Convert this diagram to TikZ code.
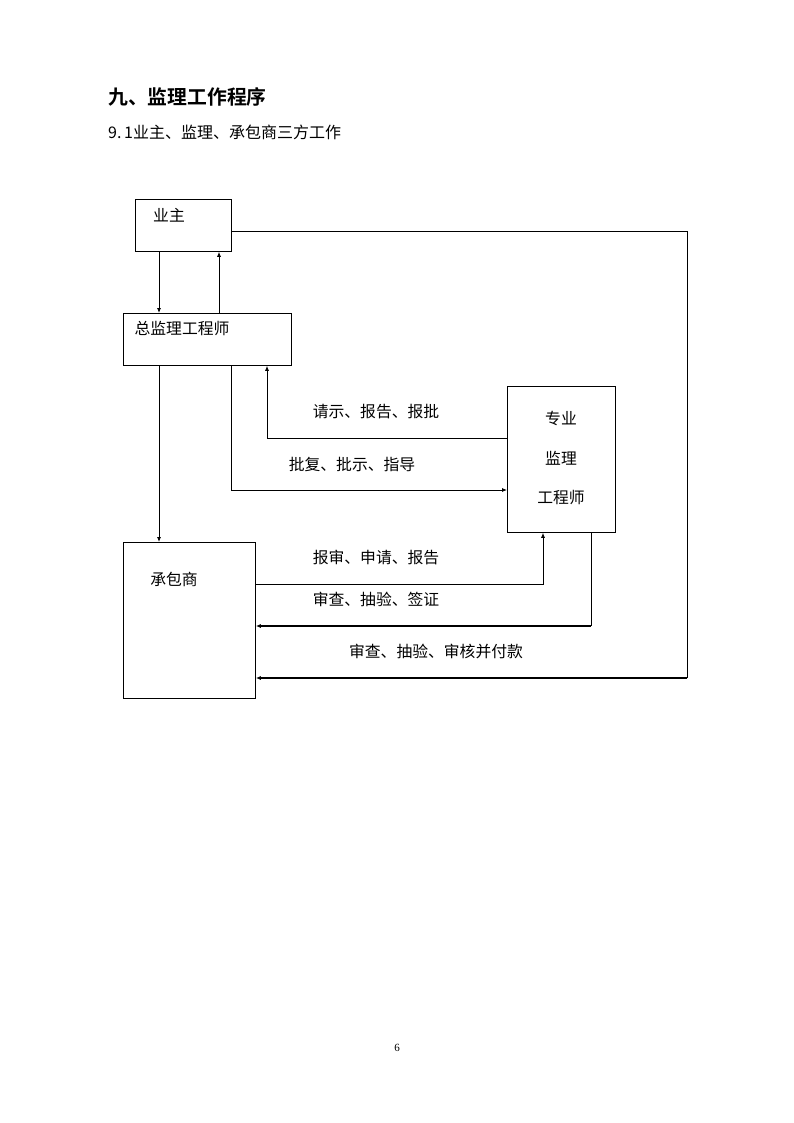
\documentclass[tikz,border=0pt]{standalone}
\usepackage{fontspec}
\setmainfont{Liberation Serif}
\newfontfamily\cjk{Noto Sans CJK SC}
\newfontfamily\cjkb{Noto Sans CJK SC Bold}
\usetikzlibrary{arrows.meta,calc}
\tikzset{
  box/.style={draw, line width=0.8pt, anchor=north west, inner sep=0pt},
  txt/.style={font=\cjk\fontsize{15.8}{18}\selectfont, inner sep=0pt},
  lbl/.style={font=\cjk\fontsize{15.8}{18}\selectfont, inner sep=0pt},
  arr/.style={line width=0.8pt, -{Latex[length=5pt,width=4pt]}},
  arrthick/.style={line width=1.6pt, -{Latex[length=5pt,width=4pt]}},
  plain/.style={line width=0.8pt}
}
\begin{document}
\begin{tikzpicture}[x=1pt,y=-1pt]
\useasboundingbox[fill=white] (0,0) rectangle (794,1123);
% title
\node[anchor=west, inner sep=0pt, font=\cjkb\fontsize{19.8}{22}\selectfont] (title) at (108,97) {九、监理工作程序};
\node[anchor=west, inner sep=0pt, font=\cjk\fontsize{16}{18}\selectfont] (sub) at (108,132) {9.\,1业主、监理、承包商三方工作};
% boxes
\node[box, minimum width=96pt, minimum height=52pt] (yz) at (135,199) {};
\node[box, minimum width=168pt, minimum height=52pt] (zj) at (123,313) {};
\node[box, minimum width=108pt, minimum height=146pt] (zy) at (507,386) {};
\node[box, minimum width=132pt, minimum height=156pt] (cbs) at (123,542) {};
% box texts
\node[txt] (tyz) at (169,215) {业主};
\node[txt] (tzj) at (182,328) {总监理工程师};
\node[txt] (tcbs) at (174,579) {承包商};
\node[txt] (tzy1) at (561,418) {专业};
\node[txt] (tzy2) at (561,458) {监理};
\node[txt] (tzy3) at (561,497) {工程师};
% labels
\node[lbl] (l1) at (376,412) {请示、报告、报批};
\node[lbl] (l2) at (352,464) {批复、批示、指导};
\node[lbl] (l3) at (376,558) {报审、申请、报告};
\node[lbl] (l4) at (376,599) {审查、抽验、签证};
\node[lbl] (l5) at (436,651) {审查、抽验、审核并付款};
% connectors
\draw[arr] ([xshift=24pt]yz.south west) -- ([xshift=24pt]yz.south west |- zj.north);
\draw[arr] ([xshift=84pt]yz.south west |- zj.north) -- ([xshift=84pt]yz.south west);
\draw[arr] ([xshift=36pt]zj.south west) -- ([xshift=36pt]zj.south west |- cbs.north);
\draw[arr] ([yshift=-52pt]zy.north west) -| ([xshift=144pt]zj.south west);
\draw[arr] ([xshift=108pt]zj.south west) |- ([yshift=-104pt]zy.north west);
\draw[arr] ([yshift=-42pt]cbs.north east) -| ([xshift=36pt]zy.south west);
\draw[plain] ([xshift=84pt]zy.south west) -- ([xshift=84pt]zy.south west |- 0,626);
\draw[arrthick] ([xshift=84pt]zy.south west |- 0,626) -- ([yshift=-84pt]cbs.north east);
\coordinate (rc1) at (687,231);
\coordinate (rc2) at (687,678);
\draw[plain] ([yshift=-32pt]yz.north east) -- (rc1) -- (rc2);
\draw[arrthick] (rc2) -- ([yshift=-136pt]cbs.north east);
% page number
\node[inner sep=0pt, font=\fontsize{11}{13}\selectfont] (pg) at (397,1048) {6};
\end{tikzpicture}
\end{document}
